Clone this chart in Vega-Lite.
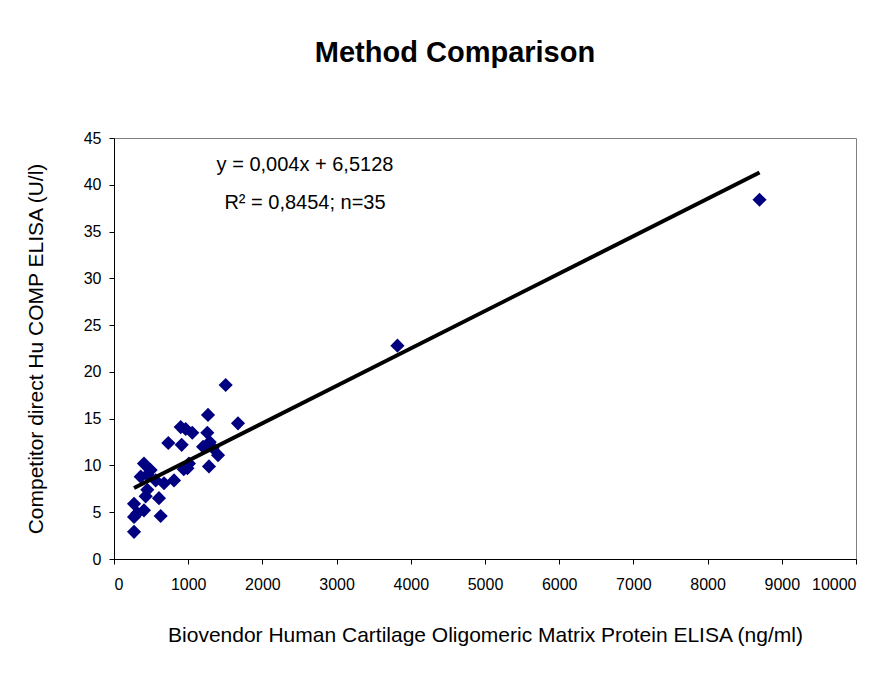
{
  "$schema": "https://vega.github.io/schema/vega-lite/v6.json",
  "autosize": {"type": "none"},
  "width": 742,
  "height": 421,
  "padding": {"left": 114, "top": 138, "right": 35, "bottom": 116},
  "background": "white",
  "title": {
    "text": "Method Comparison",
    "font": "Liberation Sans Narrow, Liberation Sans, Arial",
    "fontSize": 29,
    "fontWeight": "bold",
    "color": "black",
    "anchor": "middle",
    "dx": -30,
    "offset": 62
  },
  "config": {
    "view": {"stroke": "#808080", "strokeWidth": 1},
    "font": "Liberation Sans Narrow, Liberation Sans, Arial",
    "axis": {
      "grid": false,
      "domainColor": "black",
      "tickColor": "black",
      "labelColor": "black",
      "titleColor": "black",
      "labelFontSize": 16,
      "titleFontSize": 21,
      "titleFontWeight": "normal",
      "labelFont": "Liberation Sans Narrow, Liberation Sans, Arial",
      "titleFont": "Liberation Sans Narrow, Liberation Sans, Arial",
      "tickSize": 5,
      "labelOverlap": false
    }
  },
  "datasets": {
    "points": [
      {"cobm": 8700, "comp": 38.4},
      {"cobm": 3820, "comp": 22.8},
      {"cobm": 1505, "comp": 18.6},
      {"cobm": 1267, "comp": 15.4},
      {"cobm": 1671, "comp": 14.5},
      {"cobm": 899, "comp": 14.1},
      {"cobm": 966, "comp": 13.9},
      {"cobm": 1055, "comp": 13.5},
      {"cobm": 1258, "comp": 13.5},
      {"cobm": 732, "comp": 12.4},
      {"cobm": 912, "comp": 12.2},
      {"cobm": 1200, "comp": 12.0},
      {"cobm": 1290, "comp": 12.5},
      {"cobm": 1330, "comp": 11.9},
      {"cobm": 1402, "comp": 11.1},
      {"cobm": 1280, "comp": 9.9},
      {"cobm": 990, "comp": 9.7},
      {"cobm": 1010, "comp": 10.2},
      {"cobm": 404, "comp": 10.2},
      {"cobm": 494, "comp": 9.5},
      {"cobm": 360, "comp": 8.8},
      {"cobm": 809, "comp": 8.4},
      {"cobm": 674, "comp": 8.1},
      {"cobm": 562, "comp": 8.4},
      {"cobm": 449, "comp": 7.4},
      {"cobm": 427, "comp": 6.7},
      {"cobm": 606, "comp": 6.5},
      {"cobm": 270, "comp": 5.9},
      {"cobm": 404, "comp": 5.2},
      {"cobm": 314, "comp": 4.9},
      {"cobm": 270, "comp": 4.5},
      {"cobm": 629, "comp": 4.6},
      {"cobm": 270, "comp": 2.9},
      {"cobm": 450, "comp": 9.0},
      {"cobm": 940, "comp": 9.6}
    ],
    "fit": [
      {"cobm": 270, "comp": 7.59},
      {"cobm": 8700, "comp": 41.31}
    ],
    "labels": [
      {"cobm": 2574, "comp": 42.1, "label": "y = 0,004x + 6,5128"},
      {"cobm": 2574, "comp": 38.0, "label": "R² = 0,8454; n=35"}
    ]
  },
  "layer": [
    {
      "data": {"name": "points"},
      "mark": {"type": "point", "shape": "diamond", "filled": true, "color": "#000080", "size": 200, "opacity": 1, "strokeWidth": 0},
      "encoding": {
        "x": {"field": "cobm", "type": "quantitative", "scale": {"domain": [0, 10000], "nice": false},
          "axis": {"title": "Biovendor Human Cartilage Oligomeric Matrix Protein ELISA (ng/ml)", "format": "d", "values": [0,1000,2000,3000,4000,5000,6000,7000,8000,9000,10000], "titlePadding": 32, "labelPadding": 12}},
        "y": {"field": "comp", "type": "quantitative", "scale": {"domain": [0, 45], "nice": false},
          "axis": {"title": "Competitor direct Hu COMP ELISA (U/l)", "values": [0,5,10,15,20,25,30,35,40,45], "titlePadding": 37, "labelPadding": 8}}
      }
    },
    {
      "data": {"name": "fit"},
      "mark": {"type": "line", "color": "black", "strokeWidth": 4},
      "encoding": {
        "x": {"field": "cobm", "type": "quantitative"},
        "y": {"field": "comp", "type": "quantitative"}
      }
    },
    {
      "data": {"name": "labels"},
      "mark": {"type": "text", "fontSize": 20, "color": "black", "align": "center", "baseline": "middle", "font": "Liberation Sans Narrow, Liberation Sans, Arial"},
      "encoding": {
        "x": {"field": "cobm", "type": "quantitative"},
        "y": {"field": "comp", "type": "quantitative"},
        "text": {"field": "label"}
      }
    }
  ]
}
